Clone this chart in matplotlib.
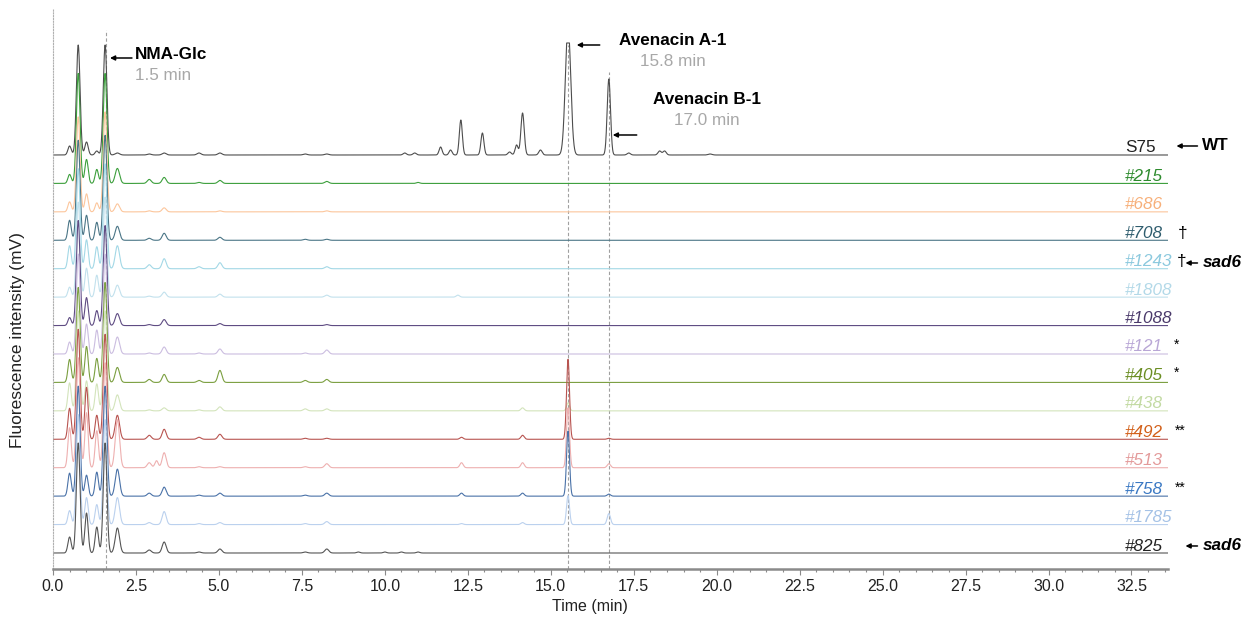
import numpy as np
import matplotlib
matplotlib.use("Agg")
import matplotlib.pyplot as plt
from matplotlib.ticker import MultipleLocator

plt.rcParams['font.family'] = ['Liberation Sans', 'DejaVu Sans']

# ---------------- data ----------------
samples = ["S75", "#215", "#686", "#708", "#1243", "#1808", "#1088", "#121",
           "#405", "#438", "#492", "#513", "#758", "#1785", "#825"]
line_colors = ["#4d4d4d", "#3c9f3c", "#fcc69c", "#4a7586", "#a3d8e6", "#c2e1ed",
               "#5f4c83", "#cbbde0", "#7b9f40", "#d3e4bb", "#b85450", "#eeb0b0",
               "#4a72a8", "#bbd1ee", "#555555"]
label_colors = ["#222222", "#2e8b2e", "#f7b07a", "#2f5d6e", "#8cc9de", "#b3d9e8",
                "#4b3a6b", "#b9a7d6", "#6b8e23", "#c3daa3", "#d2601a", "#e39a9a",
                "#3a78c3", "#a5c2e6", "#222222"]
label_italic = [False] + [True] * 14

# retention times (min) of peaks common to all samples
rt_common = [0.50, 0.76, 1.01, 1.32, 1.57, 1.94, 2.90, 3.35, 4.40, 5.03, 7.60, 8.25]
w_common = [0.05, 0.055, 0.05, 0.05, 0.055, 0.065, 0.06, 0.06, 0.06, 0.06, 0.06, 0.06]
# peak heights (mV, arbitrary scale) per sample for the common peaks
h_common = [
    [9, 110, 13, 4, 110, 2, 1, 2, 2, 2, 1, 1],      # S75
    [9, 110, 24, 14, 110, 15, 4, 6, 1, 3, 0, 2],    # 215
    [10, 95, 18, 9, 100, 8, 1, 4, 0, 1, 0, 1],      # 686
    [20, 100, 25, 18, 105, 14, 2, 7, 0, 3, 1, 1],   # 708
    [23, 100, 29, 22, 105, 23, 4, 10, 2, 6, 0, 2],  # 1243
    [10, 95, 29, 22, 100, 12, 1, 5, 0, 3, 0, 2],    # 1808
    [8, 105, 28, 15, 100, 12, 1, 6, 0, 2, 0, 1],    # 1088
    [12, 100, 30, 24, 100, 17, 1, 7, 1, 5, 1, 4],   # 121
    [23, 95, 36, 24, 100, 15, 3, 8, 2, 12, 2, 3],   # 405
    [28, 100, 30, 27, 100, 16, 1, 3, 1, 4, 2, 2],   # 438
    [31, 110, 52, 24, 105, 24, 4, 10, 2, 5, 1, 1],  # 492
    [40, 110, 55, 37, 105, 48, 5, 15, 1, 1, 1, 4],  # 513
    [23, 110, 21, 24, 110, 27, 3, 9, 1, 3, 1, 3],   # 758
    [14, 110, 27, 20, 105, 27, 2, 13, 1, 2, 1, 3],  # 1785
    [16, 110, 40, 26, 110, 25, 3, 11, 1, 4, 1, 4],  # 825
]
# additional peaks per sample: (retention time, height, width)
extra_peaks = [
    [(10.6, 2, 0.05), (10.9, 2, 0.05), (11.68, 8, 0.045), (11.98, 5, 0.045),
     (12.29, 35, 0.045), (12.94, 22, 0.045), (13.76, 3, 0.05), (13.97, 10, 0.045),
     (14.15, 42, 0.05), (14.69, 5, 0.05), (15.52, 130, 0.08), (16.75, 76, 0.05),
     (17.35, 2, 0.05), (18.28, 4, 0.05), (18.43, 4, 0.05), (19.8, 1, 0.06)],
    [(11.0, 1, 0.05)],
    [],
    [],
    [],
    [(12.2, 2, 0.05)],
    [],
    [],
    [],
    [(14.15, 3, 0.05), (15.52, 8, 0.045)],
    [(12.31, 2, 0.05), (14.15, 4, 0.05), (15.52, 80, 0.045), (16.75, 1, 0.05)],
    [(3.12, 7, 0.05), (12.31, 5, 0.05), (14.15, 5, 0.05), (15.52, 60, 0.045), (16.75, 4, 0.05)],
    [(12.31, 3, 0.05), (14.15, 3, 0.05), (15.52, 65, 0.045), (16.75, 2, 0.05)],
    [(12.31, 1, 0.05), (14.15, 2, 0.05), (15.52, 29, 0.045), (16.75, 11, 0.05)],
    [(9.2, 1, 0.05), (10.0, 1, 0.05), (10.5, 1, 0.05), (11.0, 1, 0.05)],
]
saturation = 112          # detector ceiling (flat-topped peaks)
trace_offset = 28.43      # vertical stacking offset
t_end = 33.6

marker_lines = [(1.6, 523), (15.52, 508), (16.75, 481)]  # (time, top)

# ---------------- figure ----------------
W, H = 1258, 617
fig = plt.figure(figsize=(W / 100, H / 100), dpi=100)
ax = fig.add_axes([53 / W, 1 - 569 / H, (1168 - 53) / W, (569 - 8) / H])

t = np.linspace(0, t_end, 8000)
n = len(samples)
base_top = (n - 1) * trace_offset

for i, name in enumerate(samples):
    y = np.zeros_like(t)
    for rt, w, h in zip(rt_common, w_common, h_common[i]):
        y += h * np.exp(-0.5 * ((t - rt) / w) ** 2)
    for rt, h, w in extra_peaks[i]:
        y += h * np.exp(-0.5 * ((t - rt) / w) ** 2)
    y = np.minimum(y, saturation)
    base = base_top - i * trace_offset
    ax.plot(t, base + y, color=line_colors[i], lw=0.8, zorder=2 + i * 0.01)
    ax.text(32.3, base + 2.5, name, color=label_colors[i], fontsize=12.3,
            style='italic' if label_italic[i] else 'normal', va='baseline',
            ha='left', zorder=5)

ylo, yhi = -16, base_top + 147
for xv, top in marker_lines:
    ax.plot([xv, xv], [ylo, top], color="#a0a0a0", lw=0.8, ls=(0, (3, 2)), zorder=1)

ax.set_xlim(0, t_end)
ax.set_ylim(ylo, yhi)
ax.set_yticks([])
for s in ["top", "right"]:
    ax.spines[s].set_visible(False)
ax.spines["left"].set_color("#b0b0b0")
ax.spines["left"].set_linestyle((0, (1, 1.5)))
ax.spines["left"].set_linewidth(0.8)
ax.spines["bottom"].set_color("#8a8a8a")
ax.spines["bottom"].set_linewidth(1.8)
ax.xaxis.set_minor_locator(MultipleLocator(0.5))
ax.set_xticks(np.arange(0, 33, 2.5))
ax.set_xticklabels([f"{v:.1f}" for v in np.arange(0, 33, 2.5)])
ax.tick_params(axis='x', which='major', length=4, width=0.8, color="#8a8a8a",
               labelsize=11.5, pad=3, labelcolor="#222222")
ax.tick_params(axis='x', which='minor', length=2.5, width=0.8, color="#8a8a8a")

fig.text(590 / W, 1 - 606 / H, "Time (min)", ha='center', va='center', fontsize=11.5,
         color="#222222")
fig.text(18 / W, 1 - 340 / H, "Fluorescence intensity (mV)", rotation=90,
         ha='center', va='center', fontsize=12.5, color="#222222")

def ypx(p):
    return base_top + (155 - p)

def xpx(p):
    return (p - 53) / 33.2

arrow_kw = dict(arrowstyle='-|>', color='black', lw=1.1, mutation_scale=7,
                shrinkA=0, shrinkB=0)

# top annotations
ax.annotate("", xy=(xpx(110), ypx(58)), xytext=(xpx(132), ypx(58)), arrowprops=arrow_kw)
ax.text(xpx(135), ypx(55), "NMA-Glc", fontsize=12.3, fontweight='bold', ha='left', va='center')
ax.text(xpx(135), ypx(76), "1.5 min", fontsize=12.3, color="#a8a8a8", ha='left', va='center')

ax.annotate("", xy=(xpx(577), ypx(45)), xytext=(xpx(600), ypx(45)), arrowprops=arrow_kw)
ax.text(xpx(673), ypx(41), "Avenacin A-1", fontsize=12.3, fontweight='bold', ha='center', va='center')
ax.text(xpx(673), ypx(62), "15.8 min", fontsize=12.3, color="#a8a8a8", ha='center', va='center')

ax.annotate("", xy=(xpx(613), ypx(135)), xytext=(xpx(637), ypx(135)), arrowprops=arrow_kw)
ax.text(xpx(707), ypx(100), "Avenacin B-1", fontsize=12.3, fontweight='bold', ha='center', va='center')
ax.text(xpx(707), ypx(121), "17.0 min", fontsize=12.3, color="#a8a8a8", ha='center', va='center')

# right-side annotations
ax.annotate("", xy=(xpx(1177), ypx(146)), xytext=(xpx(1198), ypx(146)),
            arrowprops=arrow_kw, annotation_clip=False)
ax.text(xpx(1203), ypx(146), "WT", fontsize=12.3, fontweight='bold', ha='left',
        va='center', clip_on=False)

ax.text(xpx(1183), ypx(234), "\u2020", fontsize=12.3, ha='center', va='center', clip_on=False)
ax.text(xpx(1182), ypx(262), "\u2020", fontsize=12.3, ha='center', va='center', clip_on=False)
ax.annotate("", xy=(xpx(1186), ypx(263)), xytext=(xpx(1198), ypx(263)),
            arrowprops=arrow_kw, annotation_clip=False)
ax.text(xpx(1203), ypx(263), "sad6", fontsize=12.3, fontweight='bold', style='italic',
        ha='left', va='center', clip_on=False)

for yp in [345, 373]:
    ax.text(xpx(1177), ypx(yp), "*", fontsize=10, ha='center', va='center', clip_on=False)
for yp in [431, 488]:
    ax.text(xpx(1181), ypx(yp), "**", fontsize=10, ha='center', va='center', clip_on=False)

ax.annotate("", xy=(xpx(1186), ypx(546)), xytext=(xpx(1198), ypx(546)),
            arrowprops=arrow_kw, annotation_clip=False)
ax.text(xpx(1203), ypx(546), "sad6", fontsize=12.3, fontweight='bold', style='italic',
        ha='left', va='center', clip_on=False)

fig.savefig("out.png", dpi=100)
